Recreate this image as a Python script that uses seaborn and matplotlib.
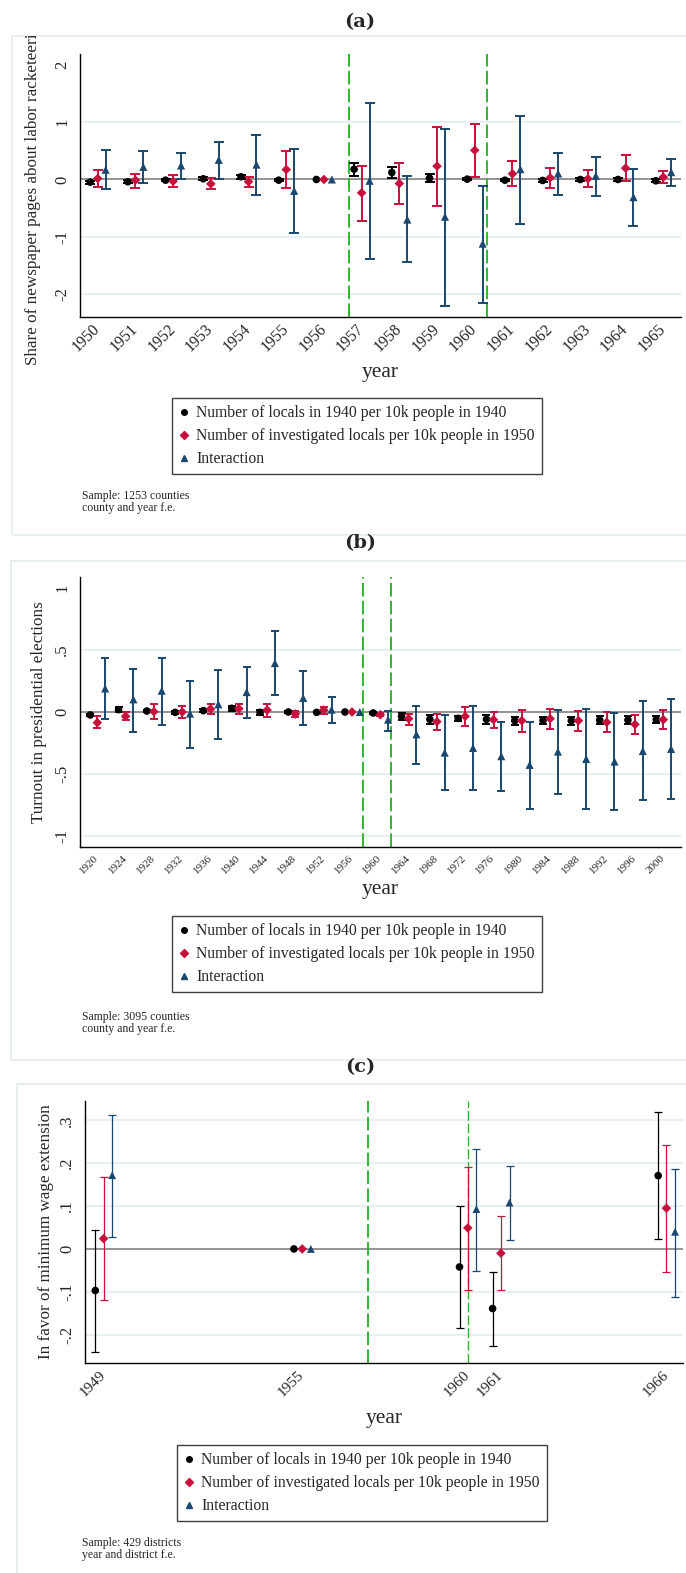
import pandas as pd
import seaborn as sns
import matplotlib.pyplot as plt
from matplotlib.lines import Line2D
from matplotlib.patches import Rectangle
from matplotlib.transforms import Bbox, TransformedBbox

sns.set_theme(style='white')
plt.rcParams['font.family'] = ['Liberation Serif', 'DejaVu Serif']

W, H = 686, 1573

series = ['Number of locals in 1940 per 10k people in 1940',
          'Number of investigated locals per 10k people in 1950',
          'Interaction']
palette = dict(zip(series, ['#000000', '#c8103c', '#1a476f']))
marker_map = dict(zip(series, ['o', 'D', '^']))

# (a) share of newspaper pages
years_a = list(range(1950, 1966))
a_loc = [-0.047, -0.04, -0.012, 0.012, 0.047, -0.012, 0, 0.18, 0.122, 0.023, 0.006, -0.012, -0.017, 0, 0, -0.023]
a_loc_lo = [-0.075, -0.07, -0.035, -0.015, 0.01, -0.03, 0, 0.06, 0.03, -0.047, -0.015, -0.035, -0.05, -0.022, -0.018, -0.045]
a_loc_hi = [-0.02, -0.01, 0.012, 0.04, 0.085, 0.006, 0, 0.285, 0.215, 0.1, 0.028, 0.01, 0.015, 0.02, 0.018, 0.0]
a_inv = [0.017, -0.012, -0.03, -0.076, -0.04, 0.174, 0, -0.233, -0.07, 0.233, 0.51, 0.1, 0.03, 0.012, 0.198, 0.04]
a_inv_lo = [-0.128, -0.145, -0.128, -0.174, -0.128, -0.157, 0, -0.72, -0.424, -0.46, 0.052, -0.122, -0.14, -0.128, -0.03, -0.07]
a_inv_hi = [0.17, 0.1, 0.076, 0.03, 0.047, 0.494, 0, 0.244, 0.285, 0.92, 0.965, 0.314, 0.198, 0.163, 0.424, 0.15]
a_int = [0.17, 0.22, 0.244, 0.343, 0.26, -0.198, 0, -0.023, -0.70, -0.65, -1.12, 0.18, 0.105, 0.064, -0.308, 0.128]
a_int_lo = [-0.169, -0.064, 0.006, 0.017, -0.267, -0.936, 0, -1.39, -1.448, -2.21, -2.15, -0.773, -0.267, -0.285, -0.814, -0.122]
a_int_hi = [0.517, 0.5, 0.465, 0.657, 0.78, 0.54, 0, 1.337, 0.058, 0.878, -0.11, 1.105, 0.46, 0.384, 0.19, 0.366]

# (b) turnout in presidential elections
years_b = list(range(1920, 2001, 4))
b_loc = [-0.024, 0.019, 0.008, -0.003, 0.011, 0.03, -0.003, 0, -0.003, 0, -0.008,
         -0.035, -0.059, -0.051, -0.059, -0.07, -0.067, -0.07, -0.065, -0.065, -0.062]
b_loc_lo = [-0.035, -0.003, -0.003, -0.013, -0.002, 0.005, -0.024, -0.008, -0.011, 0, -0.016,
            -0.062, -0.094, -0.075, -0.094, -0.105, -0.094, -0.105, -0.097, -0.094, -0.091]
b_loc_hi = [-0.013, 0.038, 0.02, 0.008, 0.024, 0.048, 0.019, 0.008, 0.005, 0, 0.0,
            -0.008, -0.027, -0.03, -0.027, -0.038, -0.04, -0.038, -0.035, -0.035, -0.035]
b_inv = [-0.086, -0.035, 0.003, 0.0, 0.024, 0.027, 0.016, -0.016, 0.016, 0, -0.022,
         -0.054, -0.078, -0.035, -0.062, -0.07, -0.054, -0.07, -0.083, -0.1, -0.062]
b_inv_lo = [-0.13, -0.067, -0.056, -0.046, -0.016, -0.019, -0.038, -0.038, -0.013, 0, -0.035,
            -0.102, -0.148, -0.11, -0.129, -0.159, -0.134, -0.156, -0.161, -0.177, -0.14]
b_inv_hi = [-0.035, 0.0, 0.062, 0.046, 0.062, 0.065, 0.065, 0.008, 0.043, 0, -0.008,
            -0.016, -0.013, 0.04, 0.003, 0.013, 0.022, 0.011, -0.003, -0.024, 0.016]
b_int = [0.19, 0.102, 0.172, -0.013, 0.062, 0.161, 0.395, 0.113, 0.019, 0, -0.062,
         -0.18, -0.328, -0.29, -0.357, -0.427, -0.32, -0.379, -0.40, -0.315, -0.298]
b_int_lo = [-0.059, -0.159, -0.108, -0.293, -0.22, -0.051, 0.134, -0.108, -0.091, 0, -0.153,
            -0.417, -0.632, -0.629, -0.64, -0.78, -0.659, -0.782, -0.793, -0.712, -0.699]
b_int_hi = [0.433, 0.35, 0.44, 0.253, 0.336, 0.363, 0.65, 0.328, 0.124, 0, 0.011,
            0.048, -0.027, 0.046, -0.081, -0.081, 0.016, 0.024, -0.008, 0.086, 0.102]

# (c) in favor of minimum wage extension
years_c = [1949, 1955, 1960, 1961, 1966]
c_loc = [-0.097, 0, -0.042, -0.139, 0.171]
c_loc_lo = [-0.24, 0, -0.184, -0.226, 0.024]
c_loc_hi = [0.044, 0, 0.1, -0.053, 0.32]
c_inv = [0.024, 0, 0.049, -0.01, 0.095]
c_inv_lo = [-0.118, 0, -0.095, -0.096, -0.053]
c_inv_hi = [0.167, 0, 0.19, 0.077, 0.243]
c_int = [0.172, 0, 0.093, 0.108, 0.04]
c_int_lo = [0.029, 0, -0.051, 0.02, -0.111]
c_int_hi = [0.313, 0, 0.233, 0.193, 0.186]


def long_frame(years, offsets, coefs, los, his):
    rows = []
    for name, off, c, lo, hi in zip(series, offsets, coefs, los, his):
        for y, ci, l, h in zip(years, c, lo, hi):
            rows.append({'year': y, 'x': y + off, 'coef': ci, 'lo': l, 'hi': h, 'series': name})
    return pd.DataFrame(rows)


df_a = long_frame(years_a, [-0.2, 0, 0.21], [a_loc, a_inv, a_int],
                  [a_loc_lo, a_inv_lo, a_int_lo], [a_loc_hi, a_inv_hi, a_int_hi])
df_b = long_frame(years_b, [-1.0, 0, 1.1], [b_loc, b_inv, b_int],
                  [b_loc_lo, b_inv_lo, b_int_lo], [b_loc_hi, b_inv_hi, b_int_hi])
df_c = long_frame(years_c, [-0.25, 0, 0.26], [c_loc, c_inv, c_int],
                  [c_loc_lo, c_inv_lo, c_int_lo], [c_loc_hi, c_inv_hi, c_int_hi])

fig = plt.figure(figsize=(W / 100, H / 100), dpi=100)


def px_axes(left, top, right, bottom):
    return fig.add_axes([left / W, 1 - bottom / H, (right - left) / W, (bottom - top) / H])


def px_box(left, top, right, bottom):
    return Bbox.from_extents(left / W, 1 - bottom / H, right / W, 1 - top / H)


def draw_panel(ax, df, xlim, ylim, yticks, ylabels, grid, vlines, xticks, xfs, elw, cap, sizes):
    for g in grid:
        ax.axhline(g, color='#e7eff2', lw=1.5, zorder=0)
    ax.axhline(0, color='#808080', lw=1.2, zorder=1)
    for v, lw in vlines:
        ax.axvline(v, color='#2eb82e', lw=lw, dashes=(7, 2.2), zorder=1)
    for name in series:
        d = df[df['series'] == name]
        e = d[d['hi'] > d['lo']]
        ax.errorbar(e['x'], e['coef'], yerr=[e['coef'] - e['lo'], e['hi'] - e['coef']],
                    fmt='none', ecolor=palette[name], elinewidth=elw, capsize=cap,
                    capthick=elw, zorder=2)
        sns.scatterplot(data=d, x='x', y='coef', color=palette[name], marker=marker_map[name],
                        s=sizes[name], edgecolor='none', linewidth=0, ax=ax, zorder=3, legend=False)
    ax.set_xlim(*xlim)
    ax.set_ylim(*ylim)
    ax.set_yticks(yticks)
    ax.set_yticklabels(ylabels, rotation=90, va='center', fontsize=12)
    ax.set_xticks(xticks)
    ax.set_xticklabels([str(t) for t in xticks], rotation=45, ha='right', va='center',
                       rotation_mode='anchor', fontsize=xfs)
    ax.set_xlabel('')
    ax.set_ylabel('')
    for s in ['top', 'right']:
        ax.spines[s].set_visible(False)
    for s in ['left', 'bottom']:
        ax.spines[s].set_color('black')
        ax.spines[s].set_linewidth(1.0)
    ax.tick_params(axis='both', length=4, width=0.8, color='black', direction='out')
    ax.tick_params(axis='x', pad=3)
    ax.tick_params(axis='y', pad=3)


def panel_text(title, title_y, box, ylab, ylab_x, ylab_y, year_x, year_y, leg_x, leg_y, note, note_y):
    x0, y0, x1, y1 = box
    fig.add_artist(Rectangle((x0 / W, 1 - y1 / H), (x1 - x0) / W, (y1 - y0) / H,
                             transform=fig.transFigure, fill=False, edgecolor='#e3ebef', lw=1.2))
    fig.text(360 / W, 1 - title_y / H, title, ha='center', va='center', fontsize=14,
             fontweight='bold', family='DejaVu Serif')
    t = fig.text(ylab_x / W, 1 - ylab_y / H, ylab, rotation=90, ha='center', va='center', fontsize=12.3)
    t.set_clip_box(TransformedBbox(px_box(*box), fig.transFigure))
    t.set_clip_on(True)
    fig.text(year_x / W, 1 - year_y / H, 'year', ha='center', va='center', fontsize=15.5)
    handles = [Line2D([], [], ls='none', marker=marker_map[n], color=palette[n],
                      markersize=ms) for n, ms in zip(series, [4, 4, 4.5])]
    leg = fig.legend(handles, series, loc='upper left', bbox_to_anchor=(leg_x / W, 1 - leg_y / H),
                     frameon=True, fancybox=False, edgecolor='#404040', framealpha=1,
                     fontsize=11.3, handlelength=0.6, handletextpad=0.5, borderpad=0.45,
                     labelspacing=0.45, borderaxespad=0)
    leg.get_frame().set_linewidth(1.0)
    fig.text(82 / W, 1 - note_y / H, note, ha='left', va='top', fontsize=8.5, linespacing=1.05)


sizes_ab = {series[0]: 30, series[1]: 24, series[2]: 34}
sizes_c = {series[0]: 30, series[1]: 24, series[2]: 32}

# panel (a)
ax_a = px_axes(80, 54, 681, 317)
draw_panel(ax_a, df_a, (1949.53, 1965.47), (-2.4, 2.19), [-2, -1, 0, 1, 2], ['-2', '-1', '0', '1', '2'],
           [-2, -1, 1], [(1956.66, 1.4), (1960.33, 1.4)], years_a, 11.5, 1.4, 3.6, sizes_ab)
panel_text('(a)', 22, (12, 36, 720, 535), 'Share of newspaper pages about labor racketeering',
           33, 191, 380.5, 373, 172, 398, 'Sample: 1253 counties\ncounty and year f.e.', 490)

# panel (b)
ax_b = px_axes(80, 577, 681, 847)
draw_panel(ax_b, df_b, (1917.55, 2002.5), (-1.09, 1.09), [-1, -0.5, 0, 0.5, 1], ['-1', '-.5', '0', '.5', '1'],
           [-1, -0.5, 0.5], [(1957.5, 1.4), (1961.5, 1.4)], years_b, 8, 1.4, 2.8, sizes_ab)
panel_text('(b)', 543, (11, 561, 720, 1060), 'Turnout in presidential elections',
           39, 712, 380.5, 889, 172, 916, 'Sample: 3095 counties\ncounty and year f.e.', 1011)

# panel (c)
ax_c = px_axes(84.7, 1101, 683, 1363)
draw_panel(ax_c, df_c, (1948.43, 1966.5), (-0.266, 0.345), [-0.2, -0.1, 0, 0.1, 0.2, 0.3],
           ['-.2', '-.1', '0', '.1', '.2', '.3'], [-0.2, -0.1, 0.1, 0.2, 0.3],
           [(1957.0, 1.4), (1960.0, 1.0)], years_c, 11, 0.9, 3.0, sizes_c)
panel_text('(c)', 1067, (17, 1084, 720, 1600), 'In favor of minimum wage extension',
           46, 1232, 384, 1419, 177, 1445, 'Sample: 429 districts\nyear and district f.e.', 1537)

fig.savefig('out.png', dpi=100)
